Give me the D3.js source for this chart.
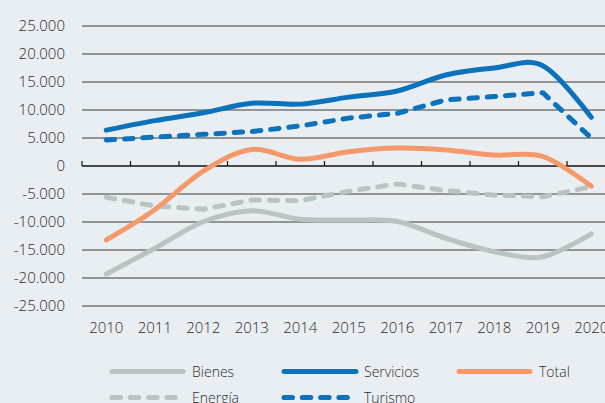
<!DOCTYPE html>
<html>
<head>
<meta charset="utf-8">
<script src="https://cdn.jsdelivr.net/npm/d3@7"></script>
<style>
  html, body { margin: 0; padding: 0; background: #e9eef3; }
  svg { display: block; font-family: "Open Sans", sans-serif; font-weight: 300; }
</style>
</head>
<body>
<div id="chart"></div>
<script>
// data
const years = [2010, 2011, 2012, 2013, 2014, 2015, 2016, 2017, 2018, 2019, 2020];
const bienes    = [-19300, -14700, -9950, -7980, -9520, -9650, -9900, -12900, -15300, -16200, -12100];
const servicios = [6400, 8100, 9500, 11200, 11050, 12300, 13400, 16250, 17500, 17900, 8700];
const total     = [-13200, -7800, -900, 2950, 1200, 2550, 3200, 2860, 1960, 1700, -3600];
const energia   = [-5600, -7140, -7730, -6070, -6200, -4500, -3200, -4400, -5200, -5500, -3700];
const turismo   = [4650, 5150, 5650, 6150, 7150, 8550, 9400, 11800, 12400, 13100, 5000];
const yTicks = [25000, 20000, 15000, 10000, 5000, 0, -5000, -10000, -15000, -20000, -25000];

const series = [
  { name: 'Bienes',    values: bienes,    color: '#b9c3c3', dash: null, smooth: true },
  { name: 'Servicios', values: servicios, color: '#0b72bb', dash: null, smooth: true },
  { name: 'Total',     values: total,     color: '#f5996b', dash: null, smooth: true },
  { name: 'Energía',   values: energia,   color: '#b9c3c4', dash: '8.5,9.8', smooth: false },
  { name: 'Turismo',   values: turismo,   color: '#0b72bb', dash: '8.5,9.8', smooth: false }
];

const width = 605, height = 403;
const textColor = '#2c2c2c';

const svg = d3.select('#chart')
  .append('svg')
  .attr('width', width)
  .attr('height', height);

// chart runs past the right edge, just like the picture
const x = d3.scaleBand()
  .domain(years)
  .range([82, 615.5])
  .padding(0);

const y = d3.scaleLinear()
  .domain([-25000, 25000])
  .range([306, 26]);

const fmt = d3.formatLocale({ decimal: ',', thousands: '.', grouping: [3], currency: ['', ''], minus: '-' }).format(',');

// gridlines
svg.append('g')
  .selectAll('line')
  .data(yTicks.filter(d => d !== 0))
  .enter()
  .append('line')
  .attr('x1', 82)
  .attr('x2', width)
  .attr('y1', d => y(d))
  .attr('y2', d => y(d))
  .attr('stroke', '#3a3a3a')
  .attr('stroke-width', 1);

// y labels
svg.append('g')
  .selectAll('text')
  .data(yTicks)
  .enter()
  .append('text')
  .attr('x', 65)
  .attr('y', d => y(d))
  .attr('dy', '0.36em')
  .attr('text-anchor', 'end')
  .attr('font-size', 15)
  .attr('fill', textColor)
  .text(d => fmt(d));

// zero axis with ticks pointing up
const zero = svg.append('g');
zero.append('line')
  .attr('x1', 82).attr('x2', width)
  .attr('y1', y(0)).attr('y2', y(0))
  .attr('stroke', '#111')
  .attr('stroke-width', 1.3);
zero.selectAll('.tick')
  .data(years)
  .enter()
  .append('line')
  .attr('x1', d => x(d)).attr('x2', d => x(d))
  .attr('y1', y(0)).attr('y2', y(0) - 5)
  .attr('stroke', '#111')
  .attr('stroke-width', 1.2);

// x labels
svg.append('g')
  .selectAll('text')
  .data(years)
  .enter()
  .append('text')
  .attr('x', d => x(d) + x.bandwidth() / 2)
  .attr('y', 333)
  .attr('text-anchor', 'middle')
  .attr('font-size', 15)
  .attr('fill', textColor)
  .text(d => d);

// lines
const px = (d, i) => x(years[i]) + x.bandwidth() / 2;
const smoothLine = d3.line().x(px).y(d => y(d)).curve(d3.curveCardinal.tension(0));
const straightLine = d3.line().x(px).y(d => y(d));

const drawOrder = ['Bienes', 'Energía', 'Total', 'Turismo', 'Servicios'];
drawOrder.forEach(name => {
  const s = series.find(d => d.name === name);
  svg.append('path')
    .attr('d', (s.smooth ? smoothLine : straightLine)(s.values))
    .attr('fill', 'none')
    .attr('stroke', s.color)
    .attr('stroke-width', 5)
    .attr('stroke-linecap', 'round')
    .attr('stroke-linejoin', 'round')
    .attr('stroke-dasharray', s.dash);
});

// legend
const legendPos = [
  { x: 112, y: 371.5, len: 71 },
  { x: 284, y: 371.5, len: 72 },
  { x: 459, y: 371.5, len: 71 },
  { x: 112, y: 397.5, len: 68 },
  { x: 284, y: 397.5, len: 67 }
];

series.forEach((s, i) => {
  const p = legendPos[i];
  const g = svg.append('g');
  g.append('line')
    .attr('x1', p.x).attr('x2', p.x + p.len)
    .attr('y1', p.y).attr('y2', p.y)
    .attr('stroke', s.color)
    .attr('stroke-width', 5)
    .attr('stroke-linecap', 'round')
    .attr('stroke-dasharray', s.dash);
  g.append('text')
    .attr('x', p.x + 80)
    .attr('y', p.y)
    .attr('dy', '0.36em')
    .attr('font-size', 14)
    .attr('fill', textColor)
    .text(s.name);
});
</script>
</body>
</html>
